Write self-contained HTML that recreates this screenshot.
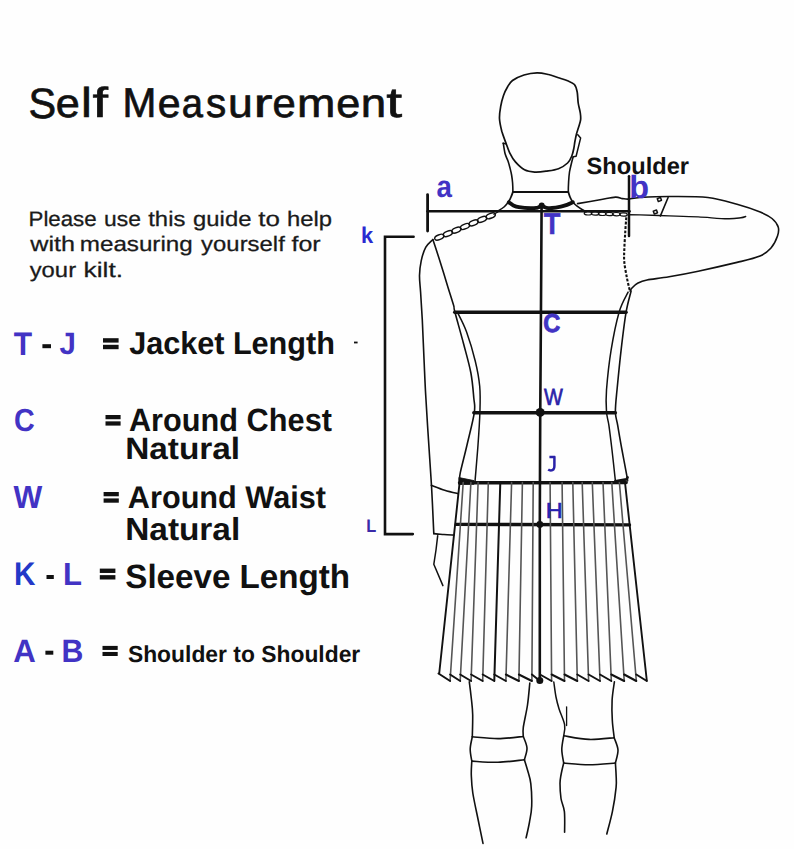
<!DOCTYPE html>
<html><head><meta charset="utf-8"><style>
html,body{margin:0;padding:0;background:#fff;}
body{width:794px;height:849px;overflow:hidden;}
svg{display:block;}
text{font-family:"Liberation Sans",sans-serif;text-rendering:geometricPrecision;}
</style></head><body>
<svg width="794" height="849" viewBox="0 0 794 849">
<rect width="794" height="849" fill="#fefefe"/>
<g fill="none" stroke="#111" stroke-linecap="round" stroke-linejoin="round">
<path d="M549.4,457 H555.2 M554.4,456.2 V466 Q554.4,470.4 550.9,470.4 Q549.2,470.4 548.2,469.6" stroke="#2a22a8" stroke-width="2.5" stroke-linecap="butt"/>
<path d="M537.0,72.8 C541.1,72.7 544.9,73.7 548.5,74.5 C552.1,75.3 555.3,76.8 558.5,77.8 C561.7,78.8 565.0,79.7 567.6,80.8 C570.2,81.9 572.8,82.6 574.4,84.5 C576.0,86.4 576.6,88.9 577.2,92.0 C577.8,95.1 577.7,99.5 578.2,103.0 C578.7,106.5 579.9,110.2 580.3,113.0 C580.7,115.8 580.9,117.5 580.6,119.9 C580.3,122.3 579.2,125.2 578.5,127.5 C577.8,129.8 577.2,131.2 576.6,133.5 C576.0,135.8 575.5,138.5 575.0,141.0 C574.5,143.5 574.3,146.0 573.8,148.5 C573.3,151.0 572.8,153.6 571.8,156.0 C570.8,158.4 569.8,160.9 567.6,163.0 C565.4,165.1 562.1,167.3 558.5,168.7 C554.9,170.1 550.0,170.6 546.0,171.2 C542.0,171.8 538.3,172.3 534.7,172.1 C531.1,171.9 527.7,171.5 524.5,169.8 C521.3,168.1 517.9,164.7 515.4,161.9 C512.9,159.1 511.3,156.0 509.7,152.8 C508.1,149.6 507.1,146.2 505.8,142.6 C504.5,139.0 502.9,135.3 501.8,131.3 C500.8,127.3 499.7,123.0 499.5,118.8 C499.3,114.6 500.0,110.2 500.7,106.3 C501.4,102.4 502.4,98.7 503.5,95.5 C504.6,92.3 506.0,89.5 507.5,87.0 C509.0,84.5 509.8,82.5 512.5,80.5 C515.2,78.5 519.9,76.3 524.0,75.0 C528.1,73.7 532.9,72.9 537.0,72.8Z" stroke-width="1.7" />
<path d="M503.3,143.3 C503.6,145.1 504.4,151.1 505.2,154.0 C506.0,156.9 507.2,158.7 508.0,161.0 C508.8,163.3 509.4,165.7 510.0,168.0 C510.6,170.3 511.2,172.5 511.6,175.0 C512.0,177.5 512.4,180.2 512.6,183.0 C512.8,185.8 512.9,190.5 512.9,192.0" stroke-width="1.6" />
<path d="M503.0,143.2 L505.6,143.8" stroke-width="1.4" />
<path d="M577.8,134.7 L580.6,138.1 L576.1,156.2 L573.2,156.8" stroke-width="1.5" />
<path d="M573.2,156.8 C572.9,157.8 572.1,160.5 571.5,163.0 C570.9,165.5 570.0,168.8 569.5,172.0 C569.0,175.2 568.8,178.7 568.6,182.0 C568.4,185.3 568.3,190.3 568.3,192.0" stroke-width="1.6" />
<path d="M512.9,192.0 L568.3,192.0" stroke-width="1.8" />
<path d="M512.9,192.0 C512.6,192.8 511.7,195.4 511.0,197.0 C510.3,198.6 509.1,200.9 508.7,201.7" stroke-width="1.8" />
<path d="M568.3,192.0 C568.6,192.8 569.3,195.4 570.0,197.0 C570.7,198.6 572.0,200.9 572.4,201.7" stroke-width="1.8" />
<path d="M508.8,202.3 C509.5,202.8 511.3,204.4 513.0,205.2 C514.7,206.0 516.0,206.7 519.0,207.2 C522.0,207.7 527.9,208.2 530.9,208.3 C533.9,208.4 535.2,208.1 537.0,207.8 C538.8,207.5 540.1,206.3 541.7,206.3 C543.3,206.3 544.8,207.5 546.5,207.8 C548.2,208.1 549.6,208.2 552.0,208.0 C554.4,207.8 558.3,207.1 560.8,206.6 C563.3,206.1 565.0,205.5 567.0,204.8 C569.0,204.1 571.8,202.7 572.8,202.3" stroke-width="3.9" />
<circle cx="541.7" cy="205.6" r="3" fill="#111" stroke="none"/>
<path d="M508.7,201.7 C507.9,202.6 506.0,205.3 504.0,207.0 C502.0,208.7 498.1,210.8 496.9,211.6" stroke-width="1.6" />
<ellipse cx="439.3" cy="237.2" rx="4.9" ry="2.4" transform="rotate(-22.6 439.3 237.2)" stroke-width="1.4"/>
<ellipse cx="447.9" cy="233.6" rx="4.9" ry="2.4" transform="rotate(-22.6 447.9 233.6)" stroke-width="1.4"/>
<ellipse cx="456.4" cy="230.1" rx="4.9" ry="2.4" transform="rotate(-22.6 456.4 230.1)" stroke-width="1.4"/>
<ellipse cx="465.0" cy="226.5" rx="4.9" ry="2.4" transform="rotate(-22.6 465.0 226.5)" stroke-width="1.4"/>
<ellipse cx="473.6" cy="222.9" rx="4.9" ry="2.4" transform="rotate(-22.6 473.6 222.9)" stroke-width="1.4"/>
<ellipse cx="482.1" cy="219.4" rx="4.9" ry="2.4" transform="rotate(-22.6 482.1 219.4)" stroke-width="1.4"/>
<ellipse cx="490.7" cy="215.8" rx="4.9" ry="2.4" transform="rotate(-22.6 490.7 215.8)" stroke-width="1.4"/>
<path d="M494.0,214.3 L499.0,211.3" stroke-width="1.3" />
<path d="M572.8,202.3 C573.5,203.0 575.6,205.0 577.1,206.2 C578.6,207.4 580.5,208.6 582.0,209.5 C583.5,210.4 585.3,211.4 586.0,211.8" stroke-width="1.6" />
<ellipse cx="588.0" cy="213.3" rx="3.8" ry="1.7" transform="rotate(1.9 588.0 213.3)" stroke-width="1.2"/>
<ellipse cx="595.1" cy="213.5" rx="3.8" ry="1.7" transform="rotate(1.9 595.1 213.5)" stroke-width="1.2"/>
<ellipse cx="602.2" cy="213.8" rx="3.8" ry="1.7" transform="rotate(1.9 602.2 213.8)" stroke-width="1.2"/>
<ellipse cx="609.3" cy="214.0" rx="3.8" ry="1.7" transform="rotate(1.9 609.3 214.0)" stroke-width="1.2"/>
<ellipse cx="616.4" cy="214.2" rx="3.8" ry="1.7" transform="rotate(1.9 616.4 214.2)" stroke-width="1.2"/>
<ellipse cx="623.5" cy="214.5" rx="3.8" ry="1.7" transform="rotate(1.9 623.5 214.5)" stroke-width="1.2"/>
<path d="M577.6,203.6 C581.3,203.0 593.7,200.9 600.0,199.8 C606.3,198.7 611.6,197.3 615.4,197.1 C619.1,196.9 620.2,198.3 622.5,198.6 C624.8,198.9 626.0,199.3 628.9,199.1 C631.8,198.9 633.3,197.9 640.0,197.5 C646.7,197.1 657.8,196.5 669.1,196.5 C680.4,196.5 696.6,196.2 707.9,197.5 C719.2,198.8 728.3,201.8 737.0,204.2 C745.7,206.6 754.4,209.6 760.2,212.0 C766.0,214.4 769.0,216.0 772.0,218.5 C775.0,221.0 777.3,224.1 778.2,227.0 C779.1,229.9 778.7,232.5 777.5,236.0 C776.3,239.5 773.9,244.7 771.0,248.0 C768.1,251.3 765.7,253.6 760.0,256.0 C754.3,258.4 747.3,259.9 737.0,262.4 C726.7,264.9 709.5,268.8 698.2,271.2 C686.9,273.6 677.6,275.3 669.1,276.8 C660.6,278.3 652.2,279.0 647.0,280.0 C641.8,281.0 640.5,281.7 638.0,283.0 C635.5,284.3 633.3,286.6 632.0,288.0 C630.7,289.4 630.4,290.6 630.1,291.1" stroke-width="1.6" />
<path d="M628.9,214.7 C630.8,214.7 633.3,214.7 640.0,214.9 C646.7,215.1 659.4,215.6 669.1,215.9 C678.8,216.2 688.5,216.4 698.2,216.9 C707.9,217.4 720.2,218.7 727.3,218.8 C734.4,219.0 737.8,218.2 740.9,217.8 C744.0,217.4 744.9,216.7 745.7,216.5" stroke-width="1.4" />
<path d="M668.1,197.5 L660.4,215.9" stroke-width="1.6" />
<rect x="657.7" y="198" width="3.4" height="3" stroke-width="1.5" transform="rotate(-20 659.4 199.5)"/>
<rect x="653.7" y="210.5" width="3.4" height="3" stroke-width="1.5" transform="rotate(-20 655.4 212)"/>
<path d="M626.3,217.3 C626.1,219.9 625.5,227.6 625.2,233.0 C624.9,238.4 624.4,245.2 624.3,250.0 C624.1,254.8 623.9,257.4 624.3,262.0 C624.7,266.6 626.0,273.1 626.9,277.8 C627.8,282.5 629.2,288.0 629.7,290.0" stroke-width="2.1" stroke-dasharray="2.8 1.6" stroke-linecap="butt"/>
<path d="M631.1,291.1 C630.3,294.6 627.8,302.4 626.1,312.2 C624.4,322.0 622.6,337.2 621.1,350.2 C619.6,363.2 618.0,379.7 617.0,390.0 C616.0,400.3 615.3,405.9 615.4,411.8 C615.5,417.7 616.6,419.0 617.7,425.4 C618.8,431.8 620.4,441.4 622.0,450.0 C623.6,458.6 626.2,472.0 627.1,477.2 C628.0,482.4 627.4,480.4 627.4,481.0" stroke-width="1.6" />
<path d="M628.1,292.1 C626.6,295.5 621.9,302.5 619.1,312.2 C616.3,321.9 613.2,337.2 611.1,350.2 C609.0,363.2 607.3,379.7 606.5,390.0 C605.7,400.3 606.1,405.9 606.5,411.8 C606.9,417.7 608.0,419.0 608.9,425.4 C609.8,431.8 610.9,440.7 612.0,450.0 C613.1,459.3 614.8,475.8 615.4,481.0" stroke-width="1.5" />
<path d="M615.2,481.2 L626.4,479.4 L627.6,477.4" stroke-width="2.6" />
<path d="M432.9,239.6 C431.7,240.9 427.6,243.9 425.7,247.4 C423.8,250.9 422.2,256.1 421.2,260.8 C420.2,265.5 419.6,270.2 419.5,275.4 C419.4,280.6 420.1,284.8 420.6,292.2 C421.1,299.6 421.7,308.9 422.3,320.0 C422.9,331.1 423.4,346.5 424.0,359.0 C424.6,371.5 424.9,381.5 425.7,395.0 C426.4,408.5 427.5,424.9 428.5,440.0 C429.5,455.1 430.6,470.2 431.5,485.8 C432.4,501.4 433.4,525.6 433.8,533.6" stroke-width="1.6" />
<path d="M433.8,533.6 C435.5,533.8 440.6,534.2 444.0,534.5 C447.4,534.8 452.2,535.0 453.9,535.1" stroke-width="1.6" />
<path d="M431.3,485.3 C433.5,486.1 440.3,488.9 444.7,490.3 C449.1,491.7 455.7,493.1 457.9,493.6" stroke-width="1.6" />
<path d="M437.7,535.7 L436.0,550.0 L433.8,564.3 L442.9,585.6" stroke-width="1.5" />
<path d="M432.9,239.6 C434.1,243.3 437.7,254.0 440.2,262.0 C442.7,270.0 445.9,280.4 448.1,287.7 C450.4,295.0 452.6,301.7 453.7,305.6 C454.8,309.5 453.1,304.9 454.7,311.2 C456.3,317.5 460.8,333.2 463.5,343.5 C466.2,353.8 469.2,363.9 470.9,373.0 C472.6,382.1 473.2,391.4 473.8,398.0 C474.4,404.6 475.4,404.8 474.3,412.6 C473.2,420.4 469.3,435.0 467.0,445.0 C464.7,455.0 461.6,466.6 460.3,472.6 C459.1,478.6 459.6,479.6 459.5,481.0" stroke-width="1.6" />
<path d="M457.6,312.6 C459.1,315.8 463.6,323.7 466.5,331.8 C469.4,339.9 473.1,352.1 475.3,361.2 C477.5,370.3 478.9,377.6 479.7,386.2 C480.5,394.8 480.2,402.8 479.9,412.6 C479.6,422.4 478.8,433.9 478.0,445.0 C477.2,456.1 475.7,473.0 475.2,479.2 C474.7,485.4 474.9,481.5 474.8,482.0" stroke-width="1.5" />
<path d="M427.6,211.2 L629.5,211.2" stroke-width="2.6" />
<path d="M427.6,194.6 L427.6,231.0" stroke-width="2.8" />
<path d="M629.0,176.2 L629.0,236.0" stroke-width="2.5" />
<path d="M541.6,205.0 L540.9,320.0 L540.2,420.0 L539.8,524.0 L539.8,681.0" stroke-width="2.6" />
<path d="M454.7,312.3 L626.1,312.3" stroke-width="3.4" />
<path d="M473.8,412.7 L615.4,412.7" stroke-width="3.4" />
<path d="M459.5,482.8 L626.2,482.6" stroke-width="3.4" />
<path d="M459.2,477.6 L474,480.6 L474,484.3 L459.2,484.5 Z" stroke-width="0.8" fill="#111"/>
<path d="M456.2,524.4 L629.5,524.9" stroke-width="3.4" />
<path d="M413.6,236.8 L385.0,236.8 L385.0,534.1 L412.8,534.1" stroke-width="2.6" stroke-linejoin="miter"/>
<path d="M459.6,482.5 L439.2,673.5" stroke-width="1.9" stroke="#111"/>
<path d="M463.2,482.5 L450.1,680.5" stroke-width="1.6" stroke="#555"/>
<path d="M470.9,482.5 L460.2,680.5" stroke-width="1.6" stroke="#555"/>
<path d="M478.1,482.5 L471.1,680.5" stroke-width="1.6" stroke="#555"/>
<path d="M488.3,482.5 L482.7,680.5" stroke-width="1.6" stroke="#555"/>
<path d="M500.3,482.5 L494.3,680.5" stroke-width="2.0" stroke="#111"/>
<path d="M511.6,482.5 L505.9,680.5" stroke-width="1.6" stroke="#555"/>
<path d="M522.4,482.5 L518.9,680.5" stroke-width="1.6" stroke="#555"/>
<path d="M533.2,482.5 L531.9,680.5" stroke-width="1.6" stroke="#555"/>
<path d="M550.1,482.5 L551.6,680.5" stroke-width="1.6" stroke="#555"/>
<path d="M562.1,482.5 L564.5,680.5" stroke-width="1.6" stroke="#555"/>
<path d="M572.8,482.5 L577.3,680.5" stroke-width="1.6" stroke="#555"/>
<path d="M582.2,482.5 L588.6,680.5" stroke-width="1.6" stroke="#555"/>
<path d="M592.3,482.5 L600.0,680.5" stroke-width="1.6" stroke="#555"/>
<path d="M603.0,482.5 L611.3,680.5" stroke-width="1.6" stroke="#555"/>
<path d="M611.8,482.5 L624.2,680.5" stroke-width="1.6" stroke="#555"/>
<path d="M619.4,482.5 L636.3,680.5" stroke-width="1.6" stroke="#555"/>
<path d="M625.0,482.5 L646.8,680.5" stroke-width="1.9" stroke="#111"/>
<path d="M438.5,673.5 L450.1,681.0" stroke-width="2.0" />
<path d="M450.1,674.5 L460.2,681.0" stroke-width="2.0" />
<path d="M460.2,674.5 L471.1,681.0" stroke-width="2.0" />
<path d="M471.1,674.5 L482.7,681.0" stroke-width="2.0" />
<path d="M482.7,674.5 L494.3,681.0" stroke-width="2.0" />
<path d="M494.3,674.5 L505.9,681.0" stroke-width="2.0" />
<path d="M505.9,674.5 L518.9,681.0" stroke-width="2.0" />
<path d="M518.9,674.5 L531.9,681.0" stroke-width="2.0" />
<path d="M531.9,674.5 L540.0,681.0" stroke-width="2.0" />
<path d="M540.0,674.5 L551.6,681.0" stroke-width="2.0" />
<path d="M551.6,674.5 L564.5,681.0" stroke-width="2.0" />
<path d="M564.5,674.5 L577.3,681.0" stroke-width="2.0" />
<path d="M577.3,674.5 L588.6,681.0" stroke-width="2.0" />
<path d="M588.6,674.5 L600.0,681.0" stroke-width="2.0" />
<path d="M600.0,674.5 L611.3,681.0" stroke-width="2.0" />
<path d="M611.3,674.5 L624.2,681.0" stroke-width="2.0" />
<path d="M624.2,674.5 L636.3,681.0" stroke-width="2.0" />
<path d="M636.3,674.5 L646.8,681.0" stroke-width="2.0" />
<circle cx="540.2" cy="412.4" r="4.5" fill="#111" stroke="none"/>
<circle cx="539.8" cy="524.4" r="3.4" fill="#111" stroke="none"/>
<circle cx="539.8" cy="680.5" r="3.5" fill="#111" stroke="none"/>
<path d="M469.3,681.8 C469.7,684.8 470.9,694.5 471.5,700.0 C472.1,705.5 472.6,708.9 472.7,715.0 C472.8,721.1 472.4,733.2 472.3,736.8" stroke-width="1.6" />
<path d="M472.3,736.8 C471.9,738.8 470.3,745.0 470.2,749.0 C470.1,753.0 471.5,759.1 471.8,761.1" stroke-width="1.6" />
<path d="M472.3,736.8 C476.6,737.1 489.5,738.6 498.0,738.6 C506.5,738.6 519.1,736.9 523.3,736.5" stroke-width="1.6" />
<path d="M523.3,736.5 C523.9,738.4 526.8,744.1 527.0,748.0 C527.2,751.9 524.8,757.8 524.4,759.8" stroke-width="1.6" />
<path d="M471.8,761.1 C476.2,761.3 489.2,762.5 498.0,762.3 C506.8,762.1 520.0,760.2 524.4,759.8" stroke-width="1.6" />
<path d="M471.8,761.1 C471.7,763.4 471.1,769.7 471.3,775.0 C471.5,780.3 471.6,785.3 472.8,793.0 C474.0,800.7 476.7,812.6 478.4,821.0 C480.1,829.4 482.2,839.7 483.0,843.4" stroke-width="1.6" />
<path d="M529.8,683.0 C529.4,686.7 528.6,697.6 527.5,705.0 C526.4,712.4 524.0,722.1 523.3,727.4 C522.6,732.6 523.3,735.0 523.3,736.5" stroke-width="1.6" />
<path d="M524.4,759.8 C524.9,761.5 526.4,766.0 527.5,770.0 C528.6,774.0 530.1,777.6 530.8,783.6 C531.5,789.6 531.9,799.6 531.7,806.0 C531.5,812.4 530.4,816.7 529.5,822.0 C528.6,827.3 526.7,835.2 526.1,837.8" stroke-width="1.6" />
<path d="M553.8,682.0 C554.2,684.5 555.1,692.5 556.0,697.0 C556.9,701.5 557.6,704.1 559.0,708.7 C560.4,713.3 563.8,720.1 564.6,724.6 C565.4,729.1 563.9,733.9 563.7,735.8" stroke-width="1.5" />
<path d="M566.6,706.8 L566.6,725.6" stroke-width="1.3" />
<path d="M563.7,735.8 C563.4,738.1 561.8,745.0 561.8,749.5 C561.8,754.0 563.4,760.8 563.7,763.0" stroke-width="1.6" />
<path d="M563.7,735.8 C567.9,736.4 580.6,739.1 589.0,739.4 C597.4,739.7 610.0,738.0 614.2,737.7" stroke-width="1.6" />
<path d="M614.2,737.7 C614.8,739.8 617.8,745.8 618.0,750.0 C618.2,754.2 615.8,760.8 615.4,763.0" stroke-width="1.6" />
<path d="M563.7,763.0 C567.9,763.3 580.4,764.8 589.0,764.8 C597.6,764.8 611.0,763.3 615.4,763.0" stroke-width="1.6" />
<path d="M563.7,763.0 C563.2,765.0 561.6,771.6 561.0,775.0 C560.4,778.4 560.0,779.7 560.0,783.6 C560.0,787.5 560.3,793.8 561.0,798.5 C561.7,803.2 563.8,806.0 564.4,811.6 C565.0,817.2 564.6,828.8 564.6,832.2" stroke-width="1.6" />
<path d="M614.4,681.8 C614.0,684.8 612.5,693.6 612.1,700.0 C611.8,706.4 611.9,713.7 612.3,720.0 C612.6,726.3 613.9,734.8 614.2,737.7" stroke-width="1.6" />
<path d="M615.4,763.0 C615.5,765.0 616.0,771.0 616.1,775.0 C616.2,779.0 616.7,781.2 616.1,787.3 C615.5,793.4 614.0,803.8 612.4,811.6 C610.8,819.4 607.7,830.3 606.8,834.0" stroke-width="1.6" />
</g>
<g>
<rect x="42.4" y="344.2" width="8.60" height="4.00" fill="#111"/>
<rect x="46.5" y="575" width="7.30" height="4.00" fill="#111"/>
<rect x="45.4" y="650.7" width="7.90" height="4.00" fill="#111"/>
<rect x="103" y="338.2" width="15.60" height="4.40" fill="#111"/>
<rect x="103" y="344.8" width="15.60" height="4.40" fill="#111"/>
<rect x="105.5" y="415" width="15.10" height="4.24" fill="#111"/>
<rect x="105.5" y="421.36" width="15.10" height="4.24" fill="#111"/>
<rect x="103.6" y="492" width="15.20" height="4.28" fill="#111"/>
<rect x="103.6" y="498.42" width="15.20" height="4.28" fill="#111"/>
<rect x="99.8" y="568.6" width="15.60" height="4.36" fill="#111"/>
<rect x="99.8" y="575.14" width="15.60" height="4.36" fill="#111"/>
<rect x="102.5" y="645.9" width="15.20" height="4.04" fill="#111"/>
<rect x="102.5" y="651.96" width="15.20" height="4.04" fill="#111"/>
<rect x="354" y="341.6" width="3.60" height="1.80" fill="#111"/>
<text font-size="200" font-weight="400" fill="#111" stroke="#111" stroke-width="3.34" transform="matrix(0.20696 0 0 0.21268 28.44 117.77)">S</text>
<text font-size="200" font-weight="400" fill="#111" stroke="#111" stroke-width="3.35" transform="matrix(0.21596 0 0 0.20182 55.87 117.40)">e</text>
<text font-size="200" font-weight="400" fill="#111" stroke="#111" stroke-width="3.10" transform="matrix(0.24444 0 0 0.20897 80.92 117.30)">l</text>
<text font-size="200" font-weight="400" fill="#111" stroke="#111" stroke-width="2.89" transform="matrix(0.27925 0 0 0.21034 92.46 117.30)">f</text>
<text font-size="200" font-weight="400" fill="#111" stroke="#111" stroke-width="3.40" transform="matrix(0.20299 0 0 0.20942 122.55 117.30)">M</text>
<text font-size="200" font-weight="400" fill="#111" stroke="#111" stroke-width="3.44" transform="matrix(0.20532 0 0 0.20182 157.76 117.40)">e</text>
<text font-size="200" font-weight="400" fill="#111" stroke="#111" stroke-width="3.57" transform="matrix(0.19029 0 0 0.20182 181.78 117.40)">a</text>
<text font-size="200" font-weight="400" fill="#111" stroke="#111" stroke-width="3.45" transform="matrix(0.20230 0 0 0.20367 206.09 117.39)">s</text>
<text font-size="200" font-weight="400" fill="#111" stroke="#111" stroke-width="3.30" transform="matrix(0.22235 0 0 0.20185 228.11 117.40)">u</text>
<text font-size="200" font-weight="400" fill="#111" stroke="#111" stroke-width="2.92" transform="matrix(0.28600 0 0 0.20093 253.48 117.30)">r</text>
<text font-size="200" font-weight="400" fill="#111" stroke="#111" stroke-width="3.41" transform="matrix(0.20851 0 0 0.20182 272.53 117.40)">e</text>
<text font-size="200" font-weight="400" fill="#111" stroke="#111" stroke-width="3.25" transform="matrix(0.23050 0 0 0.20093 296.90 117.30)">m</text>
<text font-size="200" font-weight="400" fill="#111" stroke="#111" stroke-width="3.35" transform="matrix(0.21596 0 0 0.20182 336.37 117.40)">e</text>
<text font-size="200" font-weight="400" fill="#111" stroke="#111" stroke-width="3.27" transform="matrix(0.22824 0 0 0.20093 360.73 117.30)">n</text>
<text font-size="200" font-weight="400" fill="#111" stroke="#111" stroke-width="2.85" transform="matrix(0.28627 0 0 0.21061 386.14 117.38)">t</text>
<text font-size="200" font-weight="400" fill="#1a1a1a" stroke="#1a1a1a" stroke-width="2.78" transform="matrix(0.11143 0 0 0.10435 28.52 226.00)">Please</text>
<text font-size="200" font-weight="400" fill="#1a1a1a" stroke="#1a1a1a" stroke-width="2.75" transform="matrix(0.11433 0 0 0.10435 104.11 226.00)">use</text>
<text font-size="200" font-weight="400" fill="#1a1a1a" stroke="#1a1a1a" stroke-width="2.69" transform="matrix(0.11927 0 0 0.10435 148.24 226.00)">this</text>
<text font-size="200" font-weight="400" fill="#1a1a1a" stroke="#1a1a1a" stroke-width="2.69" transform="matrix(0.11928 0 0 0.10435 193.05 226.00)">guide</text>
<text font-size="200" font-weight="400" fill="#1a1a1a" stroke="#1a1a1a" stroke-width="2.57" transform="matrix(0.13013 0 0 0.10435 258.31 226.00)">to</text>
<text font-size="200" font-weight="400" fill="#1a1a1a" stroke="#1a1a1a" stroke-width="2.69" transform="matrix(0.11910 0 0 0.10435 286.93 226.00)">help</text>
<text font-size="200" font-weight="400" fill="#1a1a1a" stroke="#1a1a1a" stroke-width="2.61" transform="matrix(0.12632 0 0 0.10435 30.20 251.30)">with</text>
<text font-size="200" font-weight="400" fill="#1a1a1a" stroke="#1a1a1a" stroke-width="2.67" transform="matrix(0.12081 0 0 0.10435 79.83 251.30)">measuring</text>
<text font-size="200" font-weight="400" fill="#1a1a1a" stroke="#1a1a1a" stroke-width="2.69" transform="matrix(0.11957 0 0 0.10435 201.08 251.30)">yourself</text>
<text font-size="200" font-weight="400" fill="#1a1a1a" stroke="#1a1a1a" stroke-width="2.63" transform="matrix(0.12467 0 0 0.10435 291.53 251.30)">for</text>
<text font-size="200" font-weight="400" fill="#1a1a1a" stroke="#1a1a1a" stroke-width="2.69" transform="matrix(0.11927 0 0 0.10435 29.68 276.80)">your</text>
<text font-size="200" font-weight="400" fill="#1a1a1a" stroke="#1a1a1a" stroke-width="2.56" transform="matrix(0.13172 0 0 0.10435 83.59 276.80)">kilt.</text>
<text font-size="200" font-weight="700" fill="#4233c4"  transform="matrix(0.15000 0 0 0.16304 13.80 354.50)">T</text>
<text font-size="200" font-weight="700" fill="#4233c4"  transform="matrix(0.14737 0 0 0.15500 59.56 354.39)">J</text>
<text font-size="200" font-weight="700" fill="#4233c4"  transform="matrix(0.14351 0 0 0.15986 14.05 431.38)">C</text>
<text font-size="200" font-weight="700" fill="#4233c4"  transform="matrix(0.15238 0 0 0.15942 13.60 507.90)">W</text>
<text font-size="200" font-weight="700" fill="#2338c8"  transform="matrix(0.14806 0 0 0.16304 13.98 585.00)">K</text>
<text font-size="200" font-weight="700" fill="#4233c4"  transform="matrix(0.15534 0 0 0.15942 62.98 585.00)">L</text>
<text font-size="200" font-weight="700" fill="#4233c4"  transform="matrix(0.15672 0 0 0.16087 13.22 661.70)">A</text>
<text font-size="200" font-weight="700" fill="#4233c4"  transform="matrix(0.15164 0 0 0.16087 61.53 661.70)">B</text>
<text font-size="200" font-weight="700" fill="#111"  transform="matrix(0.15286 0 0 0.15797 129.24 354.30)">Jacket Length</text>
<text font-size="200" font-weight="700" fill="#111"  transform="matrix(0.15354 0 0 0.16159 128.93 431.30)">Around Chest</text>
<text font-size="200" font-weight="700" fill="#111"  transform="matrix(0.16652 0 0 0.15435 125.24 459.30)">Natural</text>
<text font-size="200" font-weight="700" fill="#111"  transform="matrix(0.15331 0 0 0.15725 127.83 508.00)">Around Waist</text>
<text font-size="200" font-weight="700" fill="#111"  transform="matrix(0.16682 0 0 0.15942 125.23 540.00)">Natural</text>
<text font-size="200" font-weight="700" fill="#111"  transform="matrix(0.16570 0 0 0.16812 125.31 588.40)">Sleeve Length</text>
<text font-size="200" font-weight="700" fill="#111"  transform="matrix(0.11427 0 0 0.11594 127.91 661.50)">Shoulder to Shoulder</text>
<text font-size="200" font-weight="700" fill="#111"  transform="matrix(0.11830 0 0 0.11812 586.49 173.70)">Shoulder</text>
<text font-size="200" font-weight="700" fill="#4233c4"  transform="matrix(0.13832 0 0 0.15455 436.57 197.39)">a</text>
<text font-size="200" font-weight="700" fill="#4233c4"  transform="matrix(0.16238 0 0 0.16122 629.29 197.98)">b</text>
<text font-size="200" font-weight="700" fill="#2a2ad0"  transform="matrix(0.10928 0 0 0.11448 360.97 242.80)">k</text>
<text font-size="200" font-weight="700" fill="#4233c4" stroke="#4233c4" stroke-width="2.93" transform="matrix(0.13644 0 0 0.15072 543.63 233.50)">T</text>
<text font-size="200" font-weight="700" fill="#4233c4" stroke="#4233c4" stroke-width="6.76" transform="matrix(0.11832 0 0 0.13028 543.25 331.74)">C</text>
<text font-size="200" font-weight="400" fill="#2a22a8" stroke="#2a22a8" stroke-width="6.00" transform="matrix(0.10000 0 0 0.11739 544.10 404.90)">W</text>
<text font-size="200" font-weight="400" fill="#2620b0" stroke="#2620b0" stroke-width="5.13" transform="matrix(0.11696 0 0 0.10797 545.63 517.90)">H</text>
<text font-size="200" font-weight="700" fill="#3a2aa8"  transform="matrix(0.08155 0 0 0.09058 366.24 531.60)">L</text>
</g>
</svg>
</body></html>
